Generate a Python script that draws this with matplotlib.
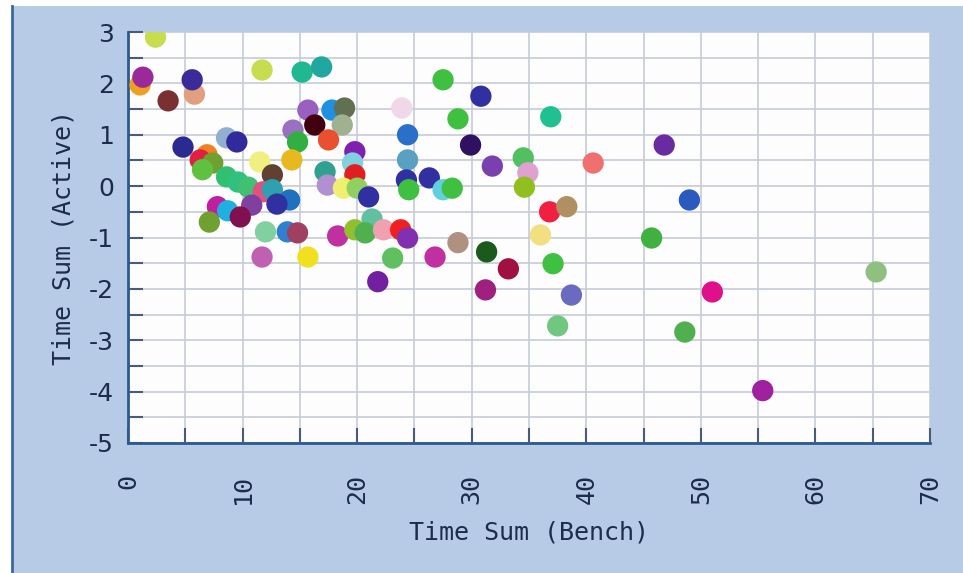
import numpy as np
import matplotlib
matplotlib.use("Agg")
from matplotlib import pyplot as plt
from matplotlib.patches import Rectangle
from matplotlib.lines import Line2D

# values
bench = [2.4, 1.05, 1.3, 3.5, 5.8, 5.6, 11.7, 15.2, 16.9, 15.7,
         14.4, 14.8, 16.3, 17.8, 18.9, 18.7, 17.5, 19.8, 23.9, 24.4,
         24.4, 27.5, 30.8, 28.8, 29.9, 36.9, 31.8, 34.5, 34.9, 34.6,
         40.6, 46.8, 36.8, 38.3, 36.0, 45.7, 31.3, 37.1, 33.2, 31.2,
         38.7, 37.5, 48.6, 49.0, 51.0, 55.4, 65.3, 4.8, 8.6, 9.5,
         6.9, 6.3, 7.4, 6.5, 8.6, 9.6, 10.5, 11.5, 14.3, 12.6,
         11.8, 12.6, 14.1, 13.0, 10.8, 7.8, 8.7, 9.8, 7.1, 12.0,
         13.9, 14.8, 11.7, 15.7, 19.6, 17.2, 17.4, 19.8, 18.8, 20.0,
         21.0, 24.3, 26.3, 24.5, 27.5, 28.3, 21.3, 18.3, 19.8, 20.7,
         22.3, 23.8, 24.4, 28.8, 23.1, 26.8, 21.8]
active = [2.9, 1.97, 2.12, 1.66, 1.79, 2.07, 2.26, 2.22, 2.32, 1.48,
          1.09, 0.86, 1.19, 1.48, 1.52, 1.19, 0.90, 0.67, 1.52, 1.0,
          0.51, 2.07, 1.75, 1.31, 0.80, 1.35, 0.39, 0.55, 0.26, -0.02,
          0.45, 0.80, -0.50, -0.40, -0.95, -1.01, -1.28, -1.51, -1.61, -2.02,
          -2.12, -2.72, -2.84, -0.27, -2.06, -3.98, -1.67, 0.76, 0.94, 0.86,
          0.61, 0.51, 0.45, 0.32, 0.18, 0.08, -0.02, 0.47, 0.51, 0.22,
          -0.11, -0.07, -0.27, -0.35, -0.37, -0.40, -0.48, -0.60, -0.70, -0.89,
          -0.89, -0.91, -1.38, -1.38, 0.45, 0.28, 0.02, 0.22, -0.04, -0.04,
          -0.21, 0.12, 0.16, -0.07, -0.07, -0.04, -0.64, -0.97, -0.85, -0.91,
          -0.85, -0.85, -1.01, -1.10, -1.40, -1.38, -1.86]
point_colors = ["#c8dc50", "#f0a020", "#9a2a9a", "#7a3030", "#e0a080", "#3a2a9a", "#c8dc50", "#20b890", "#20a8a0", "#9a60c0",
                "#9a70c0", "#30b040", "#400010", "#2090e0", "#607050", "#a0b090", "#e85030", "#8020b0", "#f0d8e8", "#2a70c8",
                "#5aa0c0", "#40c040", "#3030a0", "#40c040", "#301060", "#20c090", "#7a40b0", "#50c060", "#e0a0d0", "#90c020",
                "#f07070", "#6a2aa0", "#f02040", "#b09060", "#f0e080", "#40b040", "#1a5a1a", "#40c040", "#a01040", "#a02080",
                "#6a6ac0", "#70c880", "#50b050", "#2a5ac0", "#e0108a", "#a020a0", "#90c080", "#2a2a90", "#90b0d0", "#302a9a",
                "#f08020", "#e02040", "#70a030", "#60c040", "#30c070", "#30c080", "#40c070", "#f0f080", "#e8b820", "#604030",
                "#e05080", "#30a0b0", "#2070c0", "#3030a0", "#8040a0", "#c020a0", "#20b0e0", "#801050", "#70a030", "#80d0a0",
                "#3080d0", "#a04060", "#c060b0", "#f0e020", "#80d0e0", "#30a090", "#b090d0", "#e02020", "#f0f070", "#90d060",
                "#3030a0", "#3030a0", "#3030a0", "#40c040", "#60d0e0", "#40c040", "#60c0a0", "#c030a0", "#90c030", "#50b050",
                "#f0a0b0", "#f02020", "#8030b0", "#b09080", "#60c060", "#c030a0", "#7020a0"]

x_ticks = [0, 10, 20, 30, 40, 50, 60, 70]
y_ticks = [-5, -4, -3, -2, -1, 0, 1, 2, 3]

mono = "DejaVu Sans Mono"
ink = "#1c2c4c"

fig = plt.figure(figsize=(9.63, 5.73), dpi=100, facecolor="white")

# blue frame around the chart
fig.patches.append(Rectangle((12/963, 0), 1 - 12/963, 1 - 6/573, transform=fig.transFigure,
                             facecolor="#b7cae6", edgecolor="none", zorder=-2))
fig.lines.append(Line2D([12/963, 12/963], [0, 1 - 6/573], transform=fig.transFigure,
                        color="#3a6aa0", linewidth=2, zorder=-1))

ax = fig.add_axes([128/963, 130/573, 802/963, 411/573])
ax.set_facecolor("#fdfdfd")

ax.scatter(bench, active, s=235, c=point_colors, edgecolors="none", zorder=3)

ax.set_xlim(0, 70)
ax.set_ylim(-5, 3)
ax.set_xticks(x_ticks)
ax.set_xticks(np.arange(0, 71, 5), minor=True)
ax.set_yticks(y_ticks)
ax.set_yticks(np.arange(-5, 3.01, 0.5), minor=True)
ax.set_xticklabels([str(t) for t in x_ticks], rotation=90, family=mono, fontsize=18, color=ink)
ax.set_yticklabels([str(t) for t in y_ticks], fontsize=18, color=ink)

ax.grid(which="both", color="#c6cbd6", linewidth=1.2, zorder=0)
ax.set_axisbelow(True)

ax.tick_params(axis="both", which="both", direction="in", length=11, width=1.5, color="#4a5a78")
ax.tick_params(axis="x", which="both", pad=22)
ax.tick_params(axis="y", which="both", pad=10)

for side in ["top", "right"]:
    ax.spines[side].set_visible(False)
for side in ["left", "bottom"]:
    ax.spines[side].set_color("#2a5a90")
    ax.spines[side].set_linewidth(2)

ax.set_xlabel("Time Sum (Bench)", family=mono, fontsize=18, color=ink, labelpad=12)
ax.set_ylabel("Time Sum (Active)", family=mono, fontsize=18, color=ink, labelpad=10)

fig.savefig("out.png", dpi=100)
